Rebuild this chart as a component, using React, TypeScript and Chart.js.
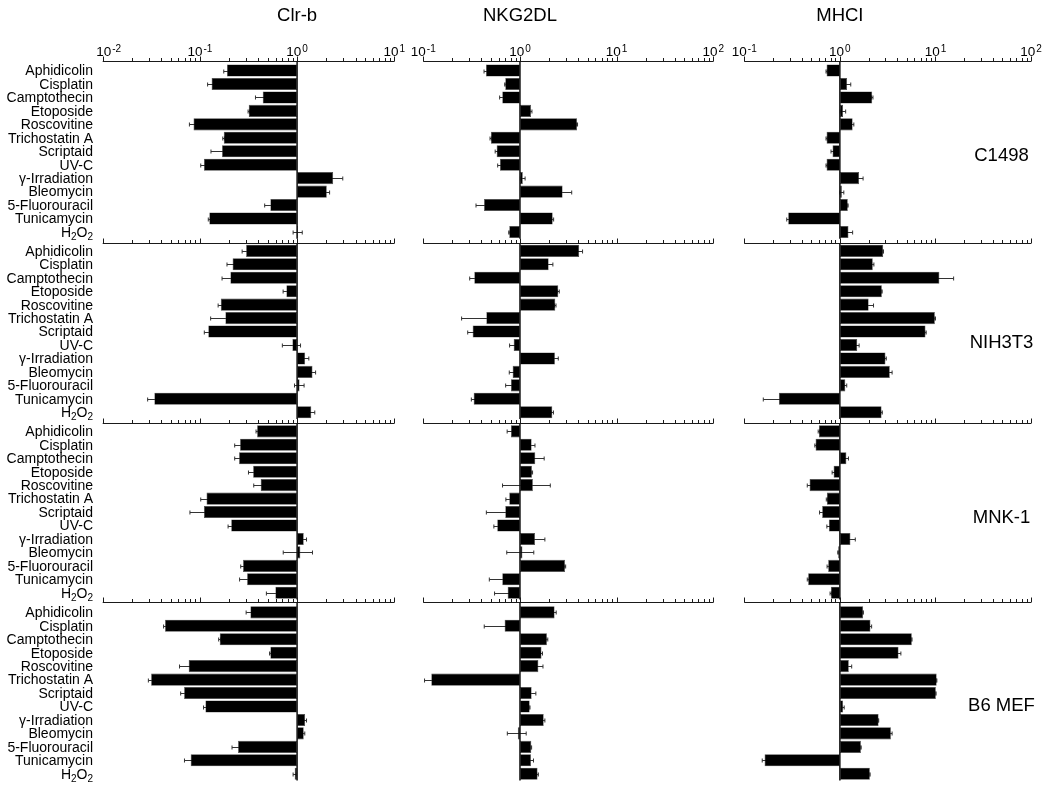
import React, { useEffect, useRef } from 'react';
import { Chart, registerables } from 'chart.js';

Chart.register(...registerables);

// ---------- categories / labels ----------
const TREATMENTS = [
  'Aphidicolin', 'Cisplatin', 'Camptothecin', 'Etoposide', 'Roscovitine',
  'Trichostatin A', 'Scriptaid', 'UV-C', 'γ-Irradiation', 'Bleomycin',
  '5-Fluorouracil', 'Tunicamycin', 'H2O2',
];
const COLUMN_TITLES = ['Clr-b', 'NKG2DL', 'MHCI'];
const CELL_LINES = ['C1498', 'NIH3T3', 'MNK-1', 'B6 MEF'];
const CLRB_TICK_EXPONENTS = [-2, -1, 0, 1];
const NKG2DL_TICK_EXPONENTS = [-1, 0, 1, 2];
const MHCI_TICK_EXPONENTS = [-1, 0, 1, 2];

// ---------- values (fold change, log axis) ----------
const CLRB_C1498 = [0.19, 0.132, 0.443, 0.318, 0.086, 0.176, 0.169, 0.11, 2.35, 2.02, 0.531, 0.125, 1.02];
const CLRB_C1498_ERR = [0.014, 0.012, 0.07, 0.005, 0.008, 0.004, 0.039, 0.008, 0.6, 0.14, 0.067, 0.003, 0.11];
const NKG2DL_C1498 = [0.445, 0.705, 0.656, 1.3, 3.89, 0.5, 0.574, 0.621, 1.07, 2.76, 0.425, 2.18, 0.775];
const NKG2DL_C1498_ERR = [0.02, 0.01, 0.04, 0.03, 0.05, 0.01, 0.02, 0.033, 0.06, 0.67, 0.074, 0.05, 0.01];
const MHCI_C1498 = [0.726, 1.19, 2.18, 1.08, 1.36, 0.726, 0.838, 0.726, 1.59, 1.05, 1.21, 0.288, 1.23];
const MHCI_C1498_ERR = [0.01, 0.11, 0.04, 0.07, 0.04, 0.01, 0.03, 0.01, 0.16, 0.05, 0.01, 0.01, 0.13];

const CLRB_NIH3T3 = [0.299, 0.217, 0.206, 0.776, 0.164, 0.183, 0.122, 0.895, 1.21, 1.44, 1.06, 0.034, 1.4];
const CLRB_NIH3T3_ERR = [0.027, 0.027, 0.037, 0.058, 0.01, 0.054, 0.011, 0.19, 0.11, 0.11, 0.12, 0.005, 0.12];
const NKG2DL_NIH3T3 = [4.1, 1.98, 0.337, 2.49, 2.32, 0.449, 0.324, 0.861, 2.3, 0.84, 0.807, 0.332, 2.16];
const NKG2DL_NIH3T3_ERR = [0.34, 0.21, 0.035, 0.06, 0.04, 0.2, 0.036, 0.08, 0.19, 0.065, 0.096, 0.018, 0.06];
const MHCI_NIH3T3 = [2.84, 2.21, 11.0, 2.75, 2.0, 9.86, 7.87, 1.52, 3.0, 3.33, 1.14, 0.23, 2.73];
const MHCI_NIH3T3_ERR = [0.02, 0.06, 4.5, 0.02, 0.25, 0.15, 0.13, 0.07, 0.06, 0.19, 0.04, 0.072, 0.05];

const CLRB_MNK1 = [0.388, 0.259, 0.253, 0.353, 0.422, 0.117, 0.11, 0.21, 1.17, 1.08, 0.278, 0.306, 0.598];
const CLRB_MNK1_ERR = [0.01, 0.031, 0.025, 0.037, 0.064, 0.015, 0.031, 0.015, 0.08, 0.36, 0.015, 0.05, 0.115];
const NKG2DL_MNK1 = [0.807, 1.32, 1.44, 1.33, 1.36, 0.775, 0.705, 0.582, 1.43, 1.06, 2.92, 0.656, 0.746];
const NKG2DL_MNK1_ERR = [0.07, 0.11, 0.34, 0.02, 0.7, 0.06, 0.256, 0.045, 0.38, 0.33, 0.05, 0.174, 0.2];
const MHCI_MNK1 = [0.603, 0.557, 1.17, 0.86, 0.482, 0.731, 0.653, 0.767, 1.29, 0.96, 0.755, 0.466, 0.805];
const MHCI_MNK1_ERR = [0.01, 0.01, 0.06, 0.03, 0.026, 0.01, 0.04, 0.036, 0.16, 0.01, 0.02, 0.01, 0.015];

const CLRB_B6MEF = [0.331, 0.0438, 0.16, 0.531, 0.0767, 0.0315, 0.0688, 0.114, 1.21, 1.17, 0.247, 0.0804, 0.945];
const CLRB_B6MEF_ERR = [0.032, 0.0015, 0.004, 0.01, 0.015, 0.002, 0.0054, 0.005, 0.04, 0.03, 0.033, 0.011, 0.035];
const NKG2DL_B6MEF = [2.28, 0.694, 1.9, 1.67, 1.55, 0.121, 1.32, 1.26, 1.76, 0.95, 1.31, 1.3, 1.52];
const NKG2DL_B6MEF_ERR = [0.09, 0.267, 0.04, 0.04, 0.18, 0.018, 0.14, 0.01, 0.05, 0.21, 0.01, 0.08, 0.03];
const MHCI_B6MEF = [1.75, 2.09, 5.66, 4.11, 1.24, 10.3, 10.1, 1.08, 2.54, 3.42, 1.66, 0.163, 2.06];
const MHCI_B6MEF_ERR = [0.01, 0.06, 0.02, 0.24, 0.09, 0.05, 0.05, 0.03, 0.01, 0.1, 0.01, 0.009, 0.01];

// table built from the arrays above
const PANELS = [
  [
    { values: CLRB_C1498, errors: CLRB_C1498_ERR },
    { values: NKG2DL_C1498, errors: NKG2DL_C1498_ERR },
    { values: MHCI_C1498, errors: MHCI_C1498_ERR },
  ],
  [
    { values: CLRB_NIH3T3, errors: CLRB_NIH3T3_ERR },
    { values: NKG2DL_NIH3T3, errors: NKG2DL_NIH3T3_ERR },
    { values: MHCI_NIH3T3, errors: MHCI_NIH3T3_ERR },
  ],
  [
    { values: CLRB_MNK1, errors: CLRB_MNK1_ERR },
    { values: NKG2DL_MNK1, errors: NKG2DL_MNK1_ERR },
    { values: MHCI_MNK1, errors: MHCI_MNK1_ERR },
  ],
  [
    { values: CLRB_B6MEF, errors: CLRB_B6MEF_ERR },
    { values: NKG2DL_B6MEF, errors: NKG2DL_B6MEF_ERR },
    { values: MHCI_B6MEF, errors: MHCI_B6MEF_ERR },
  ],
];
const TICK_EXPONENTS = [CLRB_TICK_EXPONENTS, NKG2DL_TICK_EXPONENTS, MHCI_TICK_EXPONENTS];

// ---------- layout ----------
const W = 1050;
const H = 791;
const FONT = '"Liberation Sans", Arial, Helvetica, sans-serif';
const COL_X = [[102.7, 394.3], [423.3, 713.3], [744.3, 1031]];
const ROW_AXIS_Y = [61.5, 243.5, 423.5, 602.5];
const ROW_TOP = [63.8, 244.1, 424.6, 605.6];
const ROW_H = 174.9;
const LABEL_RIGHT = 93;
const ROW_LABEL_X = 1001.5;
const ROW_LABEL_BASELINE = [160.7, 348.3, 523.3, 711];
const TITLE_BASELINE = 20.7;

const decorPlugin = {
  id: 'decor',
  beforeDatasetsDraw(chart: any, _args: any, opts: any) {
    const xs = chart.scales.x;
    const ys = chart.scales.y;
    const ctx = chart.ctx;
    const { values, errors } = PANELS[opts.row][opts.col];
    ctx.save();
    ctx.strokeStyle = '#333';
    ctx.lineWidth = 1;
    values.forEach((v: number, i: number) => {
      const e = errors[i];
      const y = Math.round(ys.getPixelForValue(i)) + 0.5;
      const lo = Math.max(v - e, xs.min * 1.001);
      const xa = xs.getPixelForValue(lo);
      const xb = xs.getPixelForValue(v + e);
      ctx.beginPath();
      ctx.moveTo(xa, y); ctx.lineTo(xb, y);
      ctx.moveTo(xa, y - 2); ctx.lineTo(xa, y + 2);
      ctx.moveTo(xb, y - 2); ctx.lineTo(xb, y + 2);
      ctx.stroke();
    });
    ctx.restore();
  },
  afterDatasetsDraw(chart: any, _args: any, opts: any) {
    const xs = chart.scales.x;
    const ys = chart.scales.y;
    const ctx = chart.ctx;
    const { row, col } = opts;
    const area = chart.chartArea;
    const axisY = ROW_AXIS_Y[row];
    const min = xs.min;
    const max = xs.max;
    ctx.save();
    // axis line
    ctx.strokeStyle = '#1a1a1a';
    ctx.lineWidth = 1;
    ctx.beginPath();
    ctx.moveTo(xs.getPixelForValue(min), axisY);
    ctx.lineTo(xs.getPixelForValue(max), axisY);
    ctx.stroke();
    // ticks
    const e0 = Math.round(Math.log10(min));
    const e1 = Math.round(Math.log10(max));
    ctx.beginPath();
    for (let e = e0; e <= e1; e++) {
      for (let m = 1; m <= 9; m++) {
        const v = m * Math.pow(10, e);
        if (v > max * 1.0001) break;
        const x = Math.round(xs.getPixelForValue(v)) + 0.5;
        const len = m === 1 ? 5 : 3.5;
        ctx.moveTo(x, axisY);
        ctx.lineTo(x, axisY - len);
      }
    }
    ctx.stroke();
    // vertical line at 1
    const x1 = xs.getPixelForValue(1);
    ctx.lineWidth = 1.5;
    ctx.strokeStyle = '#111';
    ctx.beginPath();
    ctx.moveTo(x1, axisY);
    ctx.lineTo(x1, area.bottom);
    ctx.stroke();

    ctx.fillStyle = '#000';
    // tick labels with superscripts (top row)
    if (row === 0) {
      TICK_EXPONENTS[col].forEach((e: number, idx: number) => {
        const x = xs.getPixelForValue(Math.pow(10, e));
        const base = '10';
        const sup = String(e);
        ctx.font = `13.5px ${FONT}`;
        const wb = ctx.measureText(base).width;
        ctx.font = `10px ${FONT}`;
        const ws = ctx.measureText(sup).width;
        const shift = col === 0 && idx === 0 ? 6 : 0;
        const start = x - (wb + 1 + ws) / 2 + shift;
        ctx.textAlign = 'left';
        ctx.textBaseline = 'alphabetic';
        ctx.font = `13.5px ${FONT}`;
        ctx.fillText(base, start, axisY - 6);
        ctx.font = `10px ${FONT}`;
        ctx.fillText(sup, start + wb + 1, axisY - 10);
      });
      // column title
      ctx.font = `18.5px ${FONT}`;
      ctx.textAlign = 'center';
      ctx.textBaseline = 'alphabetic';
      ctx.fillText(COLUMN_TITLES[col], x1, TITLE_BASELINE);
    }
    // category labels (first column)
    if (col === 0) {
      TREATMENTS.forEach((t, i) => {
        const y = ys.getPixelForValue(i) + 1;
        ctx.textBaseline = 'middle';
        if (t === 'H2O2') {
          const parts: [string, boolean][] = [['H', false], ['2', true], ['O', false], ['2', true]];
          const widths = parts.map(([s, sub]) => {
            ctx.font = sub ? `10px ${FONT}` : `14px ${FONT}`;
            return ctx.measureText(s).width;
          });
          const total = widths.reduce((a, b) => a + b, 0);
          let x = LABEL_RIGHT - total;
          ctx.textAlign = 'left';
          parts.forEach(([s, sub], k) => {
            ctx.font = sub ? `10px ${FONT}` : `14px ${FONT}`;
            ctx.fillText(s, x, sub ? y + 4 : y);
            x += widths[k];
          });
        } else {
          ctx.font = `14px ${FONT}`;
          ctx.textAlign = 'right';
          ctx.fillText(t, LABEL_RIGHT, y);
        }
      });
    }
    // cell-line label (last column)
    if (col === 2) {
      ctx.font = `18.5px ${FONT}`;
      ctx.textAlign = 'center';
      ctx.textBaseline = 'alphabetic';
      ctx.fillText(CELL_LINES[row], ROW_LABEL_X, ROW_LABEL_BASELINE[row]);
    }
    ctx.restore();
  },
};

function Panel({ row, col }: { row: number; col: number }) {
  const ref = useRef<HTMLCanvasElement>(null);
  useEffect(() => {
    const canvas = ref.current;
    if (!canvas) return;
    const [x0, x1] = COL_X[col];
    const range = col === 0 ? [0.01, 10] : [0.1, 100];
    const top = ROW_TOP[row];
    const { values } = PANELS[row][col];
    const chart = new Chart(canvas, {
      type: 'bar',
      data: {
        labels: TREATMENTS,
        datasets: [
          {
            data: values.map((v) => [1, v]) as any,
            backgroundColor: '#000',
            borderColor: '#444',
            borderWidth: 0.6,
            borderSkipped: false,
            barPercentage: 0.9,
            categoryPercentage: 1,
          },
        ],
      },
      options: {
        indexAxis: 'y',
        responsive: false,
        animation: false,
        events: [],
        layout: { padding: { left: x0, right: W - x1, top, bottom: H - top - ROW_H } },
        scales: {
          x: { type: 'logarithmic', min: range[0], max: range[1], display: false },
          y: { type: 'category', display: false },
        },
        plugins: {
          legend: { display: false },
          tooltip: { enabled: false },
          decor: { row, col },
        } as any,
      },
      plugins: [decorPlugin],
    });
    return () => chart.destroy();
  }, [row, col]);
  return (
    <canvas
      ref={ref}
      width={W}
      height={H}
      style={{ position: 'absolute', left: 0, top: 0, width: W, height: H }}
    />
  );
}

export default function App() {
  const cells: { row: number; col: number }[] = [];
  for (let r = 0; r < 4; r++) for (let c = 0; c < 3; c++) cells.push({ row: r, col: c });
  return (
    <div style={{ position: 'fixed', left: 0, top: 0, width: W, height: H, background: '#fff' }}>
      {cells.map(({ row, col }) => (
        <Panel key={`${row}-${col}`} row={row} col={col} />
      ))}
    </div>
  );
}
